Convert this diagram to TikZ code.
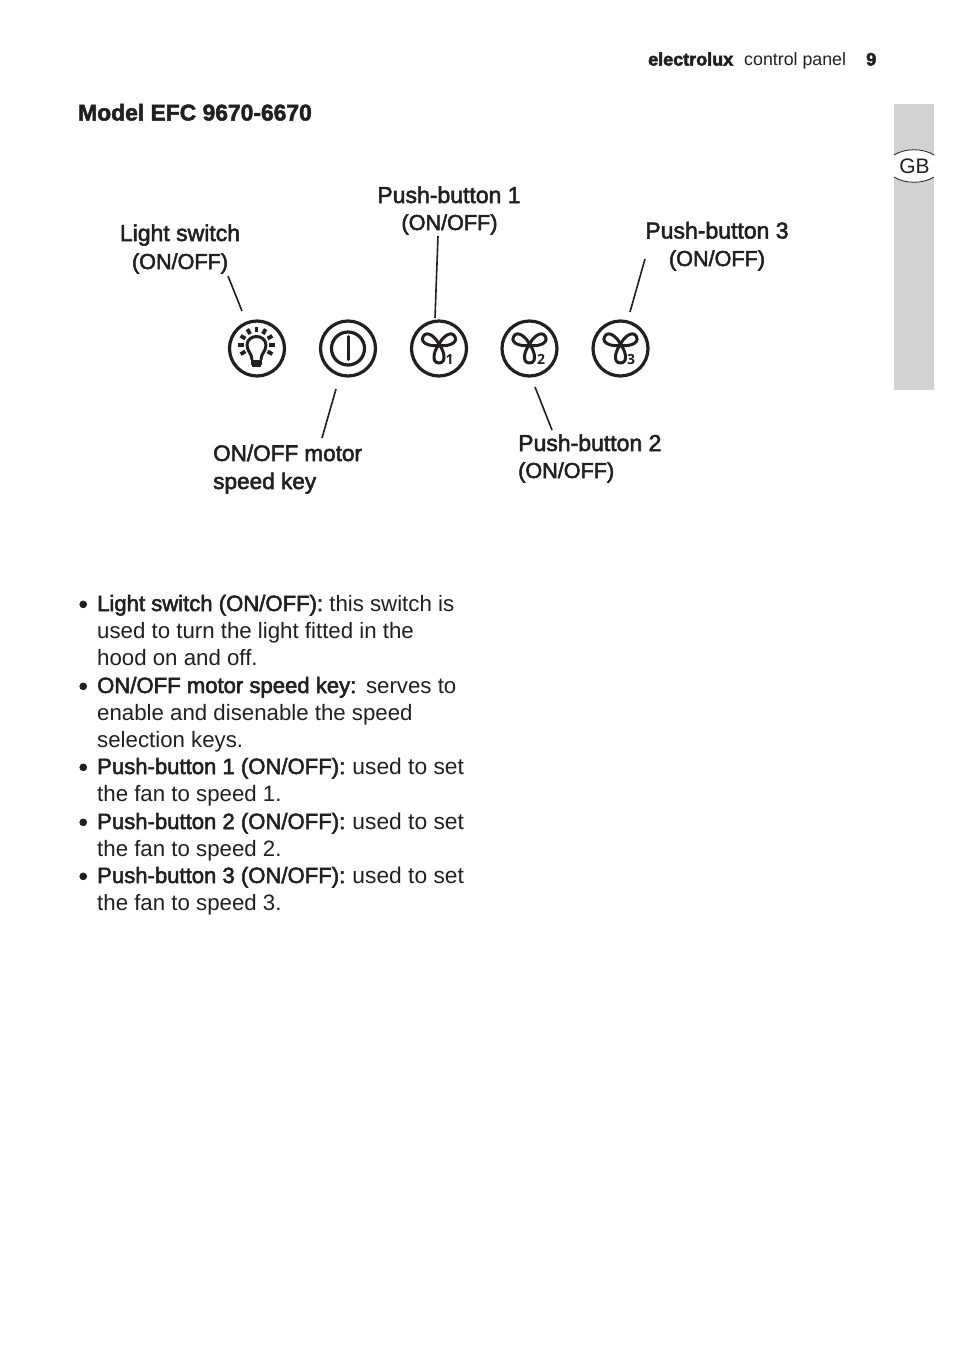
\documentclass[tikz,border=0pt]{standalone}
\usepackage{fontspec}
\usetikzlibrary{calc}
\setmainfont{Liberation Sans}
\newfontfamily\heavyfont{Liberation Sans Bold}
\newfontfamily\numfont{Open Sans}
\definecolor{ink}{HTML}{231F20}
\definecolor{tab}{HTML}{D2D2D2}
\newcommand{\strokeon}[1]{\special{pdf:code q 2 Tr #1 w}}
\newcommand{\strokeoff}{\special{pdf:code Q}}
\tikzset{
  txt/.style={inner sep=0pt,anchor=base west,text=ink,font=\fontsize{22.25}{26}\selectfont},
  ctr/.style={inner sep=0pt,anchor=base,text=ink,font=\fontsize{#1}{26}\selectfont,execute at begin node=\strokeon{.55},execute at end node=\strokeoff},
  lft/.style={inner sep=0pt,anchor=base west,text=ink,font=\fontsize{#1}{26}\selectfont,execute at begin node=\strokeon{.55},execute at end node=\strokeoff},
  hvy/.style={inner sep=0pt,anchor=base west,text=ink,font=\fontsize{#1}{26}\heavyfont,execute at begin node=\strokeon{.5},execute at end node=\strokeoff},
  btn/.style={circle,draw=ink,line width=3.2pt,minimum size=55pt,inner sep=0pt},
  leader/.style={draw=ink,line width=1.6pt},
  icon/.style={draw=ink,line width=3pt,line cap=round,line join=round},
  numlab/.style={inner sep=0pt,anchor=base,text=ink,font=\fontsize{14}{15}\numfont\bfseries},
  petal/.pic={\draw[icon] (0,0) .. controls (-4,3) and (-9,18) .. (0,18) .. controls (9,18) and (4,3) .. (0,0) -- cycle;},
  fan/.pic={
    \path (0,-3.5) pic[rotate=0] {petal};
    \path (0,-3.5) pic[rotate=118] {petal};
    \path (0,-3.5) pic[rotate=-118] {petal};
  },
}
\newcommand{\bodyln}[4]{\node[txt] (#1) at (#2,#3) {#4};}
\newcommand{\mf}[1]{{\fontsize{22.1}{26}\selectfont\strokeon{.55}#1\strokeoff}}
\newcommand{\utset}{\hspace{1pt}{\fontsize{22.8}{26}\selectfont used to set}}
\begin{document}
\begin{tikzpicture}[x=1pt,y=-1pt]
\useasboundingbox (0,0) rectangle (954,1352);
% side tab
\fill[tab] (894,104) rectangle (934,390);
\fill[white] (894,155) .. controls (905,148) and (923,148) .. (934,155) -- (934,177) .. controls (923,184) and (905,184) .. (894,177) -- cycle;
\draw[ink,line width=.8pt] (894,155) .. controls (905,148) and (923,148) .. (934,155);
\draw[ink,line width=.8pt] (894,177) .. controls (905,184) and (923,184) .. (934,177);
\node[inner sep=0pt,anchor=base,text=ink,font=\fontsize{21}{24}\selectfont] (gb) at (914.5,173.5) {GB};
% header
\node[hvy=18] (brand) at (648,65.5) {electrolux};
\node[inner sep=0pt,anchor=base west,text=ink,font=\fontsize{17.8}{20}\selectfont] (section) at (744,65.5) {control panel};
\node[hvy=18] (pageno) at (866,65.5) {9};
\node[hvy=22.85] (title) at (78,120.5) {Model EFC 9670-6670};
% buttons
\node[btn] (light) at (257,348.5) {};
\node[btn] (motor) at (348,348.5) {};
\node[btn] (b1) at (439,348.5) {};
\node[btn] (b2) at (529.5,348.5) {};
\node[btn] (b3) at (620.5,348.5) {};
% bulb
\begin{scope}[shift={(light.center)}]
  \draw[icon,line width=3pt] (-5,11) .. controls (-5,5) and (-10,3) .. (-10,-3.5) .. controls (-10,-9) and (-5,-12) .. (-0.5,-12) .. controls (4,-12) and (9,-9) .. (9,-3.5) .. controls (9,3) and (4,5) .. (4,11);
  \draw[icon,line width=2.4pt,line cap=butt] (-6,12.5) -- (5,12.5) (-6,15) -- (5,15) (-5,17) -- (4,17);
  \foreach \a in {-30,0,...,210}
    \draw[icon,line width=3.8pt,line cap=butt] ({-0.5+12.8*cos(\a)},{-3.5-12.8*sin(\a)}) -- ({-0.5+18.3*cos(\a)},{-3.5-18.3*sin(\a)});
\end{scope}
% power
\begin{scope}[shift={(motor.center)}]
  \draw[icon,line width=3.2pt] (0,0) circle[radius=16.5];
  \draw[icon,line width=3pt] (0,-12) -- (0,11);
\end{scope}
% fans
\path (b1.center) pic {fan};
\path (b2.center) pic {fan};
\path (b3.center) pic {fan};
\node[numlab] (n1) at ($(b1.center)+(10.5,15.5)$) {1};
\node[numlab] (n2) at ($(b2.center)+(11.5,15.5)$) {2};
\node[numlab] (n3) at ($(b3.center)+(10.5,15.5)$) {3};
% labels
\node[ctr=23] (l1a) at (180,241) {Light switch};
\node[ctr=21.6] (l1b) at (180,269) {(ON/OFF)};
\node[ctr=23] (l2a) at (449,203) {Push-button 1};
\node[ctr=21.6] (l2b) at (449.5,230) {(ON/OFF)};
\node[ctr=23] (l3a) at (717,238.5) {Push-button 3};
\node[ctr=21.6] (l3b) at (717,266) {(ON/OFF)};
\node[lft=22.5] (l4a) at (213,461) {ON/OFF motor};
\node[lft=22.6] (l4b) at (213,489) {speed key};
\node[lft=23] (l5a) at (518,451) {Push-button 2};
\node[lft=21.6] (l5b) at (518,478) {(ON/OFF)};
% leaders
\coordinate (p1a) at (228,276); \coordinate (p1b) at (242,311);
\coordinate (p2a) at (438,236); \coordinate (p2b) at (435,318);
\coordinate (p3a) at (645,259); \coordinate (p3b) at (630,312);
\coordinate (p4a) at (336,389); \coordinate (p4b) at (322,438);
\coordinate (p5a) at (535,387); \coordinate (p5b) at (552,430);
\draw[leader] (p1a) -- (p1b);
\draw[leader] (p2a) -- (p2b);
\draw[leader] (p3a) -- (p3b);
\draw[leader] (p4a) -- (p4b);
\draw[leader] (p5a) -- (p5b);
% bullets
\foreach \n/\y in {1/613,2/695,3/776,4/831,5/885}
  \node[lft=26] (dot\n) at (78.5,\y) {•};
\bodyln{t1}{97}{611}{\mf{Light switch (ON/OFF):} this switch is}
\bodyln{t2}{97}{638}{used to turn the light fitted in the}
\bodyln{t3}{97}{665}{hood on and off.}
\bodyln{t4}{97}{693}{\mf{ON/OFF motor speed key:} \hspace{1.5pt}serves to}
\bodyln{t5}{97}{720}{enable and disenable the speed}
\bodyln{t6}{97}{747}{selection keys.}
\bodyln{t7}{97}{774}{\mf{Push-button 1 (ON/OFF):} \utset}
\bodyln{t8}{97}{801}{the fan to speed 1.}
\bodyln{t9}{97}{829}{\mf{Push-button 2 (ON/OFF):} \utset}
\bodyln{t10}{97}{856}{the fan to speed 2.}
\bodyln{t11}{97}{883}{\mf{Push-button 3 (ON/OFF):} \utset}
\bodyln{t12}{97}{910}{the fan to speed 3.}
\end{tikzpicture}
\end{document}
